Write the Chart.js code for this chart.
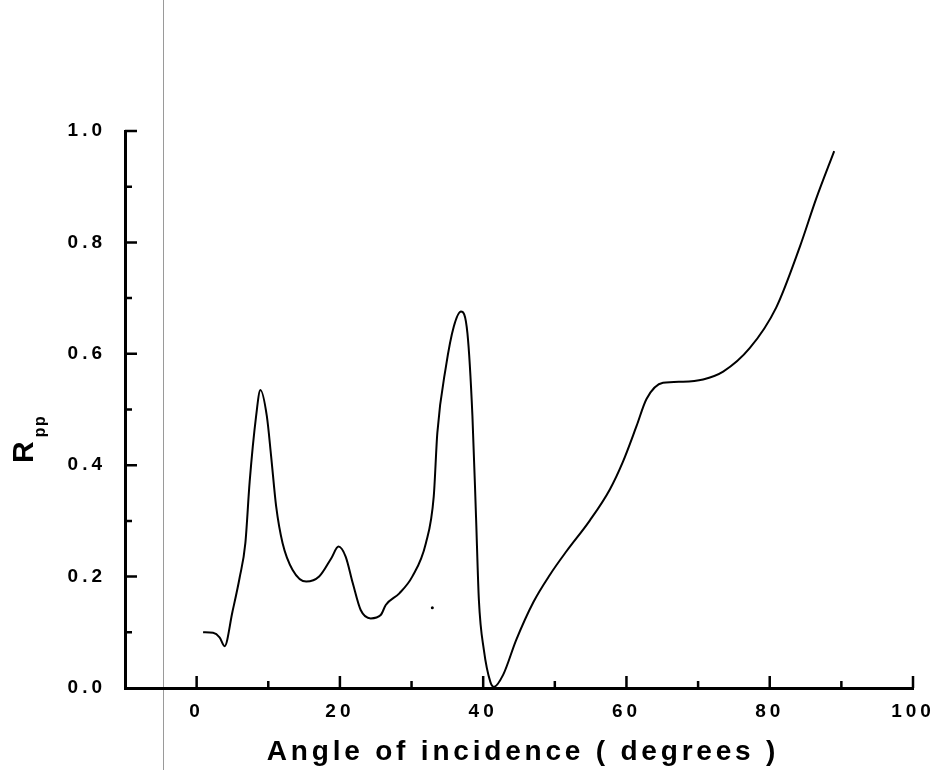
<!DOCTYPE html>
<html lang="en">

<head>
    <meta charset="UTF-8" />
    <title>Rpp vs angle of incidence</title>
    <script src="https://cdn.jsdelivr.net/npm/chart.js"></script>
    <style>
        body {
            margin: 0;
            background: #fff;
        }

        #box {
            width: 937px;
            height: 770px;
        }
    </style>
</head>

<body>

    <div id="box">
        <canvas id="rppChart" width="937" height="770"></canvas>
    </div>

</body>

<script>
    // angle of incidence (degrees) and reflection coefficient Rpp
    const angle = [0.9, 2.3, 3.2, 3.9, 5.0, 6.0, 6.8, 7.4, 8.3, 8.9, 9.8, 10.4, 11.1, 12.0, 13.4, 15.3, 17.1,
        18.8, 19.8, 20.8, 21.8, 22.9, 24.3, 25.7, 26.4, 28.3, 30.1, 32.0, 33.1, 33.6, 34.8, 35.9, 36.9, 37.8,
        38.5, 39.0, 39.4, 40.1, 41.0, 41.5, 42.8, 44.6, 47.0, 49.3, 51.6, 54.9, 57.7, 59.5, 61.4, 62.8, 65.1,
        67.9, 70.7, 73.5, 77.2, 80.9, 84.2, 86.5, 89.0];
    const rpp = [0.100, 0.099, 0.091, 0.075, 0.137, 0.198, 0.260, 0.370, 0.488, 0.535, 0.488, 0.416, 0.326,
        0.260, 0.212, 0.191, 0.200, 0.233, 0.254, 0.236, 0.188, 0.140, 0.125, 0.131, 0.149, 0.170, 0.200,
        0.260, 0.344, 0.458, 0.577, 0.649, 0.676, 0.637, 0.488, 0.308, 0.158, 0.068, 0.011, 0.002, 0.024,
        0.086, 0.154, 0.203, 0.245, 0.301, 0.357, 0.406, 0.470, 0.519, 0.548, 0.550, 0.554, 0.568, 0.610,
        0.683, 0.792, 0.879, 0.964];

    // stray speck on the plot
    const speckAngle = [32.9];
    const speckRpp = [0.144];

    const xMin = -10, xMax = 100, xStep = 10;
    const yMin = 0, yMax = 1.0, yStep = 0.1;
    const xTitle = 'Angle of incidence ( degrees )';

    const curve = angle.map(function (a, i) { return { x: a, y: rpp[i] }; });
    const speck = speckAngle.map(function (a, i) { return { x: a, y: speckRpp[i] }; });

    // inward tick marks, titles and the faint vertical rule
    const axisDecor = {
        id: 'axisDecor',
        beforeDraw: function (chart) {
            const ctx = chart.ctx;
            const xs = chart.scales.x;
            ctx.save();
            ctx.strokeStyle = '#9a9a9a';
            ctx.lineWidth = 1;
            const gx = Math.round(xs.getPixelForValue(-4.75)) + 0.5;
            ctx.beginPath();
            ctx.moveTo(gx, 0);
            ctx.lineTo(gx, chart.height);
            ctx.stroke();
            ctx.restore();
            ctx.letterSpacing = '4px';
        },
        afterDraw: function (chart) {
            const ctx = chart.ctx;
            const xs = chart.scales.x;
            const ys = chart.scales.y;
            const area = chart.chartArea;
            ctx.save();
            ctx.strokeStyle = '#000';
            ctx.lineWidth = 2.5;
            ctx.beginPath();
            ys.ticks.forEach(function (t) {
                if (t.value <= yMin) return;
                const py = ys.getPixelForValue(t.value);
                const len = Math.round(t.value * 10) % 2 === 0 ? 12 : 7;
                ctx.moveTo(area.left, py);
                ctx.lineTo(area.left + len, py);
            });
            xs.ticks.forEach(function (t) {
                if (t.value <= xMin) return;
                const px = xs.getPixelForValue(t.value);
                const len = Math.round(t.value) % 20 === 0 ? 12 : 7;
                ctx.moveTo(px, area.bottom);
                ctx.lineTo(px, area.bottom - len);
            });
            ctx.stroke();

            ctx.fillStyle = '#000';
            ctx.letterSpacing = '3.8px';
            ctx.font = 'bold 28px "Liberation Sans"';
            ctx.textAlign = 'center';
            ctx.textBaseline = 'alphabetic';
            ctx.fillText(xTitle, (area.left + area.right) / 2 + 4, 760);

            ctx.translate(33, 463);
            ctx.rotate(-Math.PI / 2);
            ctx.textAlign = 'left';
            ctx.letterSpacing = '0px';
            ctx.font = 'bold 30px "Liberation Sans"';
            ctx.fillText('R', 0, 0);
            const rw = ctx.measureText('R').width;
            ctx.letterSpacing = '1.5px';
            ctx.font = 'bold 16px "Liberation Sans"';
            ctx.fillText('pp', rw + 4, 12);
            ctx.restore();
        }
    };

    const config = {
        data: {
            datasets: [{
                type: 'line',
                label: 'Rpp',
                data: curve,
                borderColor: '#000',
                borderWidth: 2,
                pointRadius: 0,
                cubicInterpolationMode: 'monotone',
                fill: false
            }, {
                type: 'scatter',
                label: 'speck',
                data: speck,
                backgroundColor: '#000',
                borderWidth: 0,
                pointRadius: 1.5
            }]
        },
        options: {
            responsive: false,
            animation: false,
            events: [],
            layout: {
                padding: { top: 131, right: 24, left: 0, bottom: 0 }
            },
            scales: {
                x: {
                    type: 'linear',
                    min: xMin,
                    max: xMax,
                    grid: { display: false },
                    border: { display: true, color: '#000', width: 3 },
                    ticks: {
                        stepSize: xStep,
                        color: '#000',
                        padding: 4,
                        maxRotation: 0,
                        autoSkip: false,
                        font: { family: '"Liberation Sans"', size: 19, weight: 'bold' },
                        callback: function (v) {
                            return (v >= 0 && v % 20 === 0) ? String(v) : '';
                        }
                    },
                    afterFit: function (scale) { scale.height = 82; }
                },
                y: {
                    type: 'linear',
                    min: yMin,
                    max: yMax,
                    grid: { display: false },
                    border: { display: true, color: '#000', width: 3 },
                    ticks: {
                        stepSize: yStep,
                        color: '#000',
                        padding: 11,
                        autoSkip: false,
                        font: { family: '"Liberation Sans"', size: 19, weight: 'bold' },
                        callback: function (v) {
                            return Math.round(v * 10) % 2 === 0 ? v.toFixed(1) : '';
                        }
                    },
                    afterFit: function (scale) { scale.width = 125; }
                }
            },
            plugins: {
                legend: { display: false },
                tooltip: { enabled: false }
            }
        },
        plugins: [axisDecor]
    };

    const myChart = new Chart(
        document.getElementById('rppChart'),
        config
    );
</script>

</html>
